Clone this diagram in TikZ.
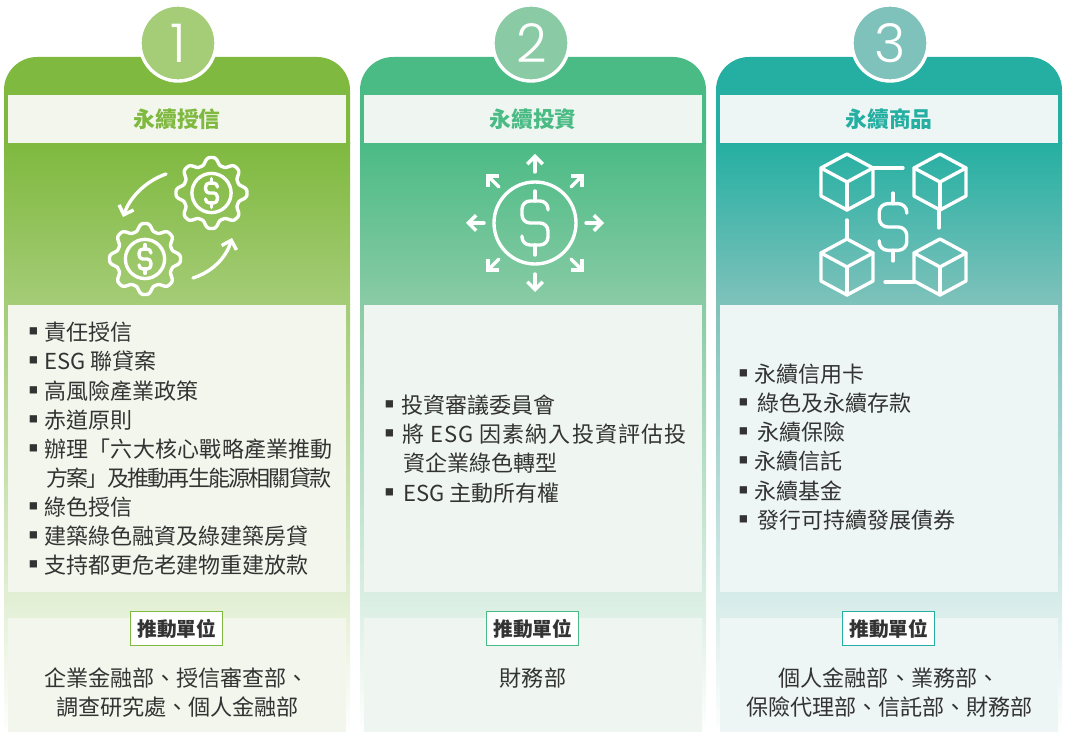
\documentclass[tikz,border=0pt]{standalone}
\usepackage{fontspec}
\usetikzlibrary{arrows.meta}
\newfontfamily\cjk{Noto Sans CJK TC}
\newfontfamily\numfont{Poppins Light}

\definecolor{creditmain}{HTML}{7FB93F}
\definecolor{creditfade}{HTML}{A5CC77}
\definecolor{credittint}{HTML}{F3F6EC}
\definecolor{investmain}{HTML}{4BBB85}
\definecolor{investfade}{HTML}{8ACBA5}
\definecolor{investtint}{HTML}{EFF6F1}
\definecolor{goodsmain}{HTML}{25AFA2}
\definecolor{goodsfade}{HTML}{7FC2BB}
\definecolor{goodstint}{HTML}{EDF6F4}
\definecolor{inktext}{HTML}{333333}

\tikzset{
    headbox/.style={minimum width=8.45cm, minimum height=1.2cm, inner sep=0pt, font=\cjk\bfseries\fontsize{15.5}{18}\selectfont},
    numdisc/.style={circle, draw=white, line width=2.4pt, minimum size=1.9cm, inner sep=0pt, text=white, font=\numfont\fontsize{38}{40}\selectfont},
    unitbox/.style={fill=white, line width=0.7pt, minimum width=2.3cm, minimum height=0.85cm, inner sep=0pt, text=inktext, font=\cjk\bfseries\fontsize{14}{16}\selectfont},
    itemtext/.style={anchor=west, inner sep=0pt, text=inktext, font=\cjk\fontsize{15.65}{18}\selectfont},
    itemmark/.style={inner sep=0pt, yshift=-2.2pt, text=inktext, font=\cjk\fontsize{19}{20}\selectfont},
    unittext/.style={inner sep=0pt, text=inktext, font=\cjk\fontsize{15.7}{18}\selectfont},
    icon/.style={draw=white, line width=2.4pt, line cap=round, line join=round},
    iconarrow/.style={icon, -{Straight Barb[length=5.5pt,width=11pt]}}
}

\newcommand{\gearicon}[2]{
    \draw[icon] plot[domain=0:360, samples=193, smooth, variable=\t]
        ({#1+gearr(\t)*cos(\t)}, {#2+gearr(\t)*sin(\t)}) -- cycle;
    \draw[icon] (#1,#2) circle[radius=0.49cm];
}
\newcommand{\dollarsign}[3]{
    \begin{scope}[shift={(#1,#2)}, scale=#3]
        \draw[icon, rounded corners=#3*5.7pt] (13,-13) -- (13,-22) -- (-13,-22) -- (-13,0) -- (13,0) -- (13,22) -- (-13,22) -- (-13,13);
        \draw[icon] (0,-32) -- (0,-22);
        \draw[icon] (0,22) -- (0,32);
    \end{scope}
}
\newcommand{\cubeicon}[2]{
    \draw[icon] (#1,#2-28) -- (#1+26,#2-14) -- (#1+26,#2+14) -- (#1,#2+28) -- (#1-26,#2+14) -- (#1-26,#2-14) -- cycle;
    \draw[icon] (#1-26,#2-14) -- (#1,#2) -- (#1+26,#2-14);
    \draw[icon] (#1,#2) -- (#1,#2+28);
}

\begin{document}
\begin{tikzpicture}[x=0.025cm, y=-0.025cm,
    declare function={gearu(\t)=0.5+0.5*cos(8*\t); gearr(\t)=28.5+7*gearu(\t)*gearu(\t)*(3-2*gearu(\t));}]
    \useasboundingbox (0,0) rectangle (1068,747);

    % columns
    \foreach \x/\w/\p/\c/\k/\n/\title in {4/346/8/177/credit/1/永續授信, 360/346/364/533/invest/2/永續投資, 716/346/720/889/goods/3/永續商品} {
        \fill[\k main] (\x,144) {[rounded corners=23.5pt] -- (\x,57) -- (\x+\w,57)} -- (\x+\w,144) -- cycle;
        \shade[top color=\k main, bottom color=\k fade] (\x,143) rectangle (\x+\w,305);
        \shade[top color=\k fade, bottom color=white] (\x,305) rectangle (\x+\w,734);
        \node[headbox, fill=\k tint, text=\k main] (head\n) at (\c,119) {\raisebox{0.7pt}{\title}};
        \fill[\k tint] (\p,305) rectangle (\p+338,592);
        \fill[\k tint] (\p,618) rectangle (\p+338,732);
        \node[unitbox, draw=\k main] (unit\n) at (\c-0.5,628.5) {\hspace{0.7pt}推動單位};
    }
    \node[numdisc, fill=creditfade] (num1) at (178,43) {1};
    \node[numdisc, fill=investfade] (num2) at (531,43) {\hspace{1pt}2};
    \node[numdisc, fill=goodsfade] (num3) at (890,43) {3};

    % gears
    \gearicon{211.5}{193}
    \gearicon{145}{259}
    \dollarsign{211.5}{193}{0.45}
    \dollarsign{145}{259}{0.45}
    \draw[iconarrow] (166,174) .. controls (146,181) and (130,197) .. (123,217);
    \draw[iconarrow] (193,278) .. controls (212,272) and (226,258) .. (232,238);

    % coin with arrows
    \draw[icon] (535,223) circle[radius=1.025cm];
    \dollarsign{535}{223}{1}
    \foreach \a in {0,45,...,315} {
        \draw[iconarrow] ({535+51*cos(\a)},{223+51*sin(\a)}) -- ({535+69*cos(\a)},{223+69*sin(\a)});
    }

    % linked cubes
    \cubeicon{847}{182}
    \cubeicon{940}{182}
    \cubeicon{847}{267}
    \cubeicon{940}{267}
    \dollarsign{893}{227}{1.06}
    \draw[icon] (873,168) -- (903,168);
    \draw[icon] (939,210) -- (939,228);
    \draw[icon] (847,220) -- (847,238);
    \draw[icon] (914,282) -- (885,282);

    % first list
    \foreach \y/\tx/\t [count=\i] in {332/44/責任授信, 361/44/ESG 聯貸案, 391/44/高風險產業政策, 420/44/赤道原則, 449/44/{\addfontfeatures{LetterSpace=1}辦理「六大核心戰略產業推動}, 507/44/綠色授信, 536/44/建築綠色融資及綠建築房貸, 565/44/支持都更危老建物重建放款} {
        \node[itemmark] (marka\i) at (34,\y) {▪};
        \node[itemtext] (itema\i) at (\tx,\y) {\t};
    }
    \node[itemtext] (itema5b) at (46,478) {\addfontfeatures{LetterSpace=-8}方案」及推動再生能源相關貸款};

    % second list
    \foreach \y/\tx/\t [count=\i] in {405/401/投資審議委員會, 434/402/{\addfontfeatures{LetterSpace=4.9}將 ESG 因素納入投資評估投}, 493/403/ESG 主動所有權} {
        \node[itemmark] (markb\i) at (390,\y) {▪};
        \node[itemtext] (itemb\i) at (\tx,\y) {\t};
    }
    \node[itemtext] (itemb2b) at (403,463) {資企業綠色轉型};

    % third list
    \foreach \y/\tx/\t [count=\i] in {374/754/永續信用卡, 403/757/綠色及永續存款, 432/757/永續保險, 461/754/永續信託, 491/754/永續基金, 520/757/發行可持續發展債券} {
        \node[itemmark] (markc\i) at (744,\y) {▪};
        \node[itemtext] (itemc\i) at (\tx,\y) {\t};
    }

    % departments
    \node[unittext] (depta1) at (176.5,678) {企業金融部、授信審查部、};
    \node[unittext] (depta2) at (177.5,707) {調查研究處、個人金融部};
    \node[unittext] (deptb1) at (533,678) {財務部};
    \node[unittext] (deptc1) at (889,678) {個人金融部、業務部、};
    \node[unittext] (deptc2) at (889.5,707) {保險代理部、信託部、財務部};
\end{tikzpicture}
\end{document}
